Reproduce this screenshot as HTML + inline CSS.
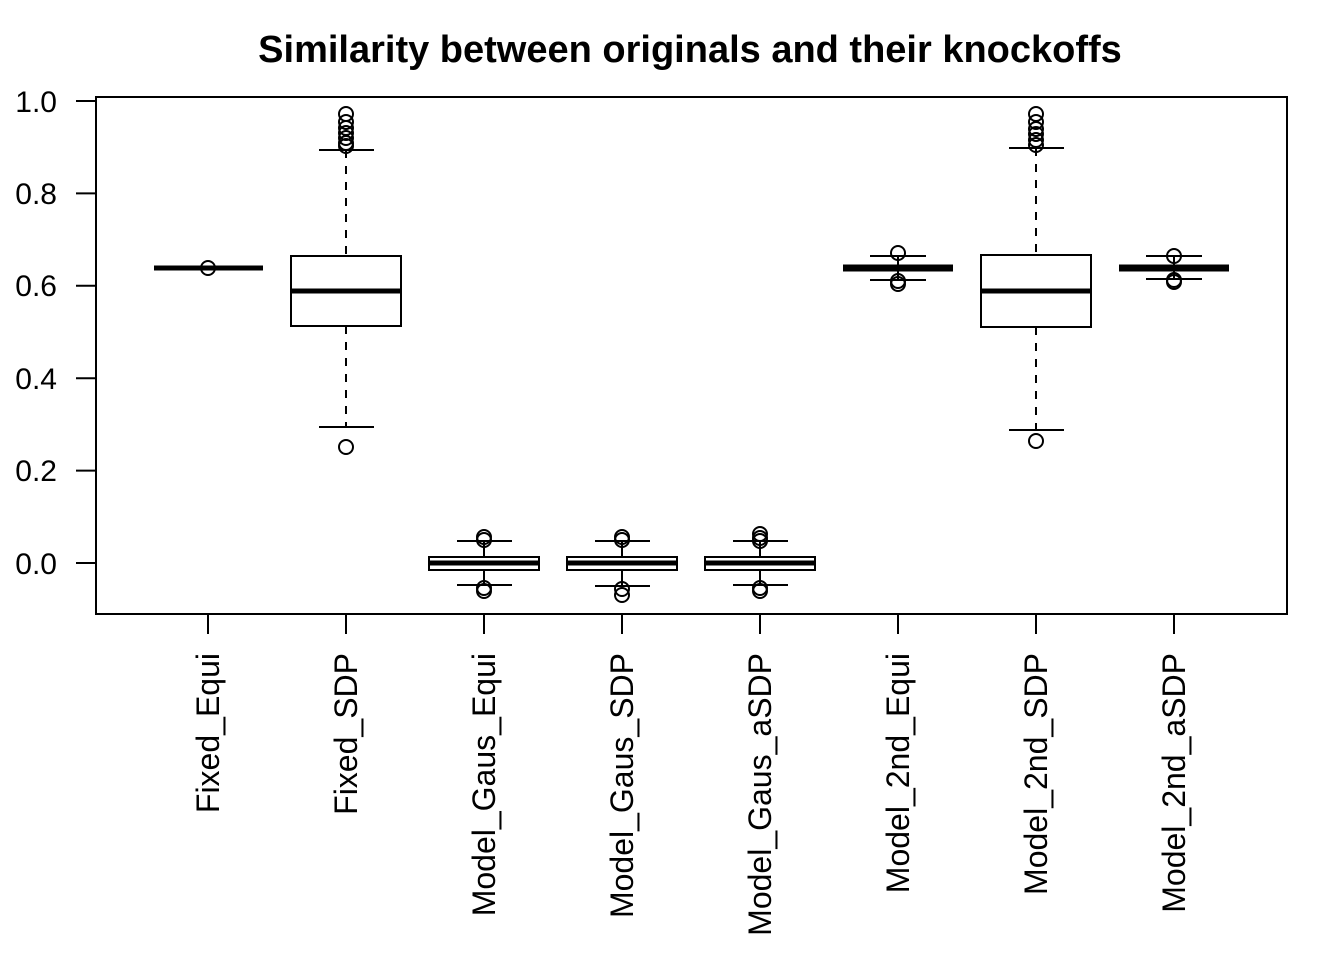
<!DOCTYPE html><html><head><style>body{margin:0;background:#fff}</style></head><body>
<svg width="1344" height="960" xmlns="http://www.w3.org/2000/svg" font-family="Liberation Sans, sans-serif">
<rect width="1344" height="960" fill="#fff"/>
<text x="690" y="62" text-anchor="middle" font-size="38" font-weight="bold">Similarity between originals and their knockoffs</text>
<rect x="96" y="97" width="1191" height="517" fill="none" stroke="#000" stroke-width="2"/>
<g stroke="#000" stroke-width="2">
<line x1="96" y1="101" x2="96" y2="563"/>
<line x1="76" y1="101" x2="96" y2="101"/><line x1="76" y1="193.4" x2="96" y2="193.4"/><line x1="76" y1="285.8" x2="96" y2="285.8"/><line x1="76" y1="378.2" x2="96" y2="378.2"/><line x1="76" y1="470.6" x2="96" y2="470.6"/><line x1="76" y1="563" x2="96" y2="563"/>
<line x1="208" y1="614" x2="1174" y2="614"/>
<line x1="208" y1="614" x2="208" y2="634"/><line x1="346" y1="614" x2="346" y2="634"/><line x1="484" y1="614" x2="484" y2="634"/><line x1="622" y1="614" x2="622" y2="634"/><line x1="760" y1="614" x2="760" y2="634"/><line x1="898" y1="614" x2="898" y2="634"/><line x1="1036" y1="614" x2="1036" y2="634"/><line x1="1174" y1="614" x2="1174" y2="634"/>
</g>
<g font-size="30" text-anchor="end">
<text x="57" y="112">1.0</text><text x="57" y="204">0.8</text><text x="57" y="296">0.6</text><text x="57" y="389">0.4</text><text x="57" y="481">0.2</text><text x="57" y="574">0.0</text>
</g>
<g font-size="32" text-anchor="end">
<text transform="translate(219,653) rotate(-90)">Fixed_Equi</text>
<text transform="translate(357,653) rotate(-90)">Fixed_SDP</text>
<text transform="translate(495,653) rotate(-90)">Model_Gaus_Equi</text>
<text transform="translate(633,653) rotate(-90)">Model_Gaus_SDP</text>
<text transform="translate(771,653) rotate(-90)">Model_Gaus_aSDP</text>
<text transform="translate(909,653) rotate(-90)">Model_2nd_Equi</text>
<text transform="translate(1047,653) rotate(-90)">Model_2nd_SDP</text>
<text transform="translate(1185,653) rotate(-90)">Model_2nd_aSDP</text>
</g>
<g stroke="#000" fill="none" stroke-width="2">
<line x1="154" y1="268" x2="263" y2="268" stroke-width="5"/>
<circle cx="208" cy="268" r="7"/>
<rect x="291" y="256" width="110" height="70" fill="#fff"/>
<line x1="291" y1="291" x2="401" y2="291" stroke-width="5"/>
<line x1="346" y1="150" x2="346" y2="256" stroke-dasharray="8,8"/>
<line x1="346" y1="326" x2="346" y2="427" stroke-dasharray="8,8"/>
<line x1="319" y1="150" x2="374" y2="150"/><line x1="319" y1="427" x2="374" y2="427"/>
<circle cx="346" cy="114" r="7"/><circle cx="346" cy="122" r="7"/><circle cx="346" cy="128" r="7"/><circle cx="346" cy="133" r="7"/><circle cx="346" cy="138" r="7"/><circle cx="346" cy="143" r="7"/><circle cx="346" cy="146" r="7"/><circle cx="346" cy="447" r="7"/>
<g>
<rect x="429" y="557" width="110" height="13" fill="#fff"/>
<line x1="429" y1="563" x2="539" y2="563" stroke-width="5"/>
<line x1="484" y1="541" x2="484" y2="557"/><line x1="484" y1="570" x2="484" y2="585"/>
<line x1="457" y1="541" x2="512" y2="541"/><line x1="457" y1="585" x2="512" y2="585"/>
<circle cx="484" cy="537" r="7"/><circle cx="484" cy="540" r="7"/><circle cx="484" cy="588" r="7"/><circle cx="484" cy="591" r="7"/>
</g>
<g transform="translate(138,0)">
<rect x="429" y="557" width="110" height="13" fill="#fff"/>
<line x1="429" y1="563" x2="539" y2="563" stroke-width="5"/>
<line x1="484" y1="541" x2="484" y2="557"/><line x1="484" y1="570" x2="484" y2="586"/>
<line x1="457" y1="541" x2="512" y2="541"/><line x1="457" y1="586" x2="512" y2="586"/>
<circle cx="484" cy="537" r="7"/><circle cx="484" cy="540" r="7"/><circle cx="484" cy="589" r="7"/><circle cx="484" cy="595" r="7"/>
</g>
<g transform="translate(276,0)">
<rect x="429" y="557" width="110" height="13" fill="#fff"/>
<line x1="429" y1="563" x2="539" y2="563" stroke-width="5"/>
<line x1="484" y1="541" x2="484" y2="557"/><line x1="484" y1="570" x2="484" y2="585"/>
<line x1="457" y1="541" x2="512" y2="541"/><line x1="457" y1="585" x2="512" y2="585"/>
<circle cx="484" cy="534" r="7"/><circle cx="484" cy="538" r="7"/><circle cx="484" cy="541" r="7"/><circle cx="484" cy="588" r="7"/><circle cx="484" cy="591" r="7"/>
</g>
<line x1="843" y1="268" x2="953" y2="268" stroke-width="7"/>
<line x1="898" y1="256" x2="898" y2="280"/>
<line x1="870" y1="256" x2="926" y2="256"/><line x1="870" y1="280" x2="926" y2="280"/>
<circle cx="898" cy="253" r="7"/><circle cx="898" cy="281" r="7"/><circle cx="898" cy="284" r="7"/>
<rect x="981" y="255" width="110" height="72" fill="#fff"/>
<line x1="981" y1="291" x2="1091" y2="291" stroke-width="5"/>
<line x1="1036" y1="148" x2="1036" y2="255" stroke-dasharray="8,8"/>
<line x1="1036" y1="327" x2="1036" y2="430" stroke-dasharray="8,8"/>
<line x1="1009" y1="148" x2="1064" y2="148"/><line x1="1009" y1="430" x2="1064" y2="430"/>
<circle cx="1036" cy="114" r="7"/><circle cx="1036" cy="122" r="7"/><circle cx="1036" cy="129" r="7"/><circle cx="1036" cy="134" r="7"/><circle cx="1036" cy="140" r="7"/><circle cx="1036" cy="145" r="7"/><circle cx="1036" cy="441" r="7"/>
<line x1="1119" y1="268" x2="1229" y2="268" stroke-width="7"/>
<line x1="1174" y1="256" x2="1174" y2="279"/>
<line x1="1146" y1="256" x2="1202" y2="256"/><line x1="1146" y1="279" x2="1202" y2="279"/>
<circle cx="1174" cy="256" r="7"/><circle cx="1174" cy="280" r="7"/><circle cx="1174" cy="282" r="7"/>
</g>
</svg>
</body></html>
